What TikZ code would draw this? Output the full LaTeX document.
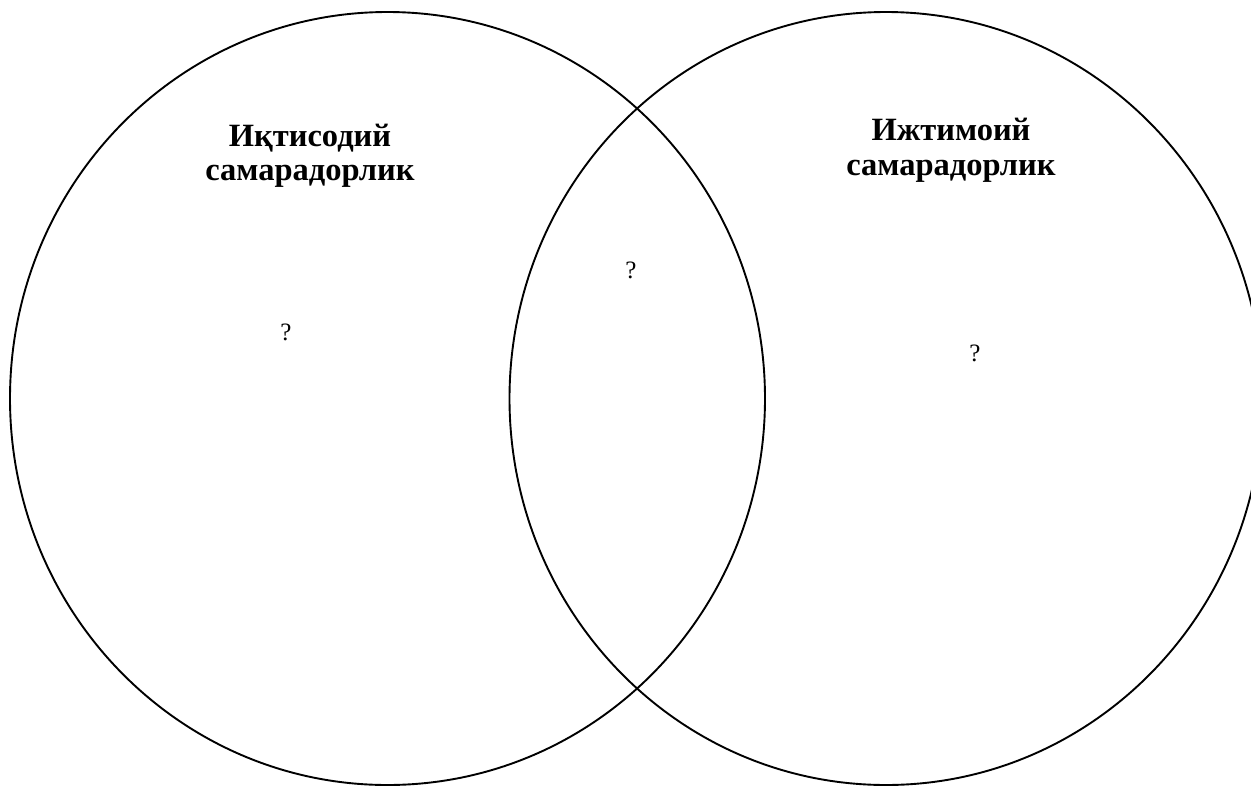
\documentclass[tikz,border=0pt]{standalone}
\usepackage{fontspec}
\setmainfont{Liberation Serif}
\begin{document}
\begin{tikzpicture}[x=1pt,y=-1pt,
  circ/.style={draw=black, line width=1.9pt},
  title/.style={font=\bfseries\fontsize{32.5}{34}\selectfont, anchor=base, inner sep=0pt},
  qm/.style={font=\fontsize{25}{27}\selectfont, anchor=base, inner sep=0pt}]
\useasboundingbox (0,0) rectangle (1251,785);
\begin{scope}
\clip (0,0) rectangle (1251,785);
\draw[circ] (387.5,398.5) ellipse [x radius=377.5, y radius=386.5];
\draw[circ] (886,398.5) ellipse [x radius=376.5, y radius=386.5];
\end{scope}
\node[title] (l1) at (310,146.7) {Иқтисодий};
\node[title] (l2) at (310,180.7) {самарадорлик};
\node[title] (r1) at (951,140) {Ижтимоий};
\node[title] (r2) at (951,175) {самарадорлик};
\node[qm] (q1) at (286,340) {?};
\node[qm] (q2) at (631,278) {?};
\node[qm] (q3) at (975,361.5) {?};
\end{tikzpicture}
\end{document}
